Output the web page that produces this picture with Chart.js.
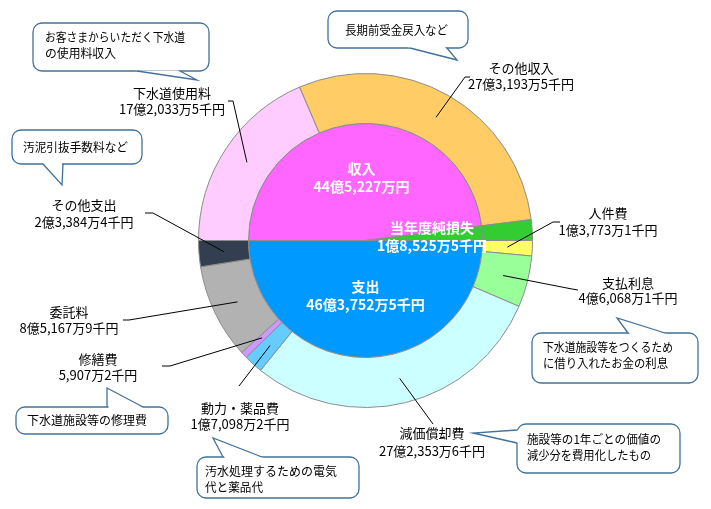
<!DOCTYPE html>
<html>
<head>
<meta charset="utf-8">
<script src="https://cdn.jsdelivr.net/npm/chart.js@4/dist/chart.umd.min.js"></script>
<style>
  html, body { margin: 0; padding: 0; background: #fff; }
  canvas { display: block; }
</style>
</head>
<body>
<canvas id="chart" width="711" height="509"></canvas>
<script>
// ---- Data (単位: 千円) ----
const outerNames  = ['下水道使用料', 'その他収入', '当年度純損失', '人件費', '支払利息', '減価償却費', '動力・薬品費', '修繕費', '委託料', 'その他支出'];
const outerValues = [1720335, 2731935, 185255, 137731, 460681, 2723536, 170982, 59072, 851679, 233844];
const outerColors = ['#ffccff', '#ffcc66', '#33cc33', '#ffff66', '#99ff99', '#ccffff', '#66ccff', '#cc99ff', '#b2b2b2', '#333f50'];

const innerNames  = ['収入', '当年度純損失', '支出'];
const innerValues = [4452270, 185255, 4637525];
const innerColors = ['#ff66ff', '#33cc33', '#0099ff'];

// ---- Label placement (text centre + leader path near the label) ----
const outerLabelLayout = [
  { x: 172, y: 93,  gap: 16, path: [[233, 101], [228, 101]] },
  { x: 521, y: 68,  gap: 16, path: [[465, 77], [470, 77]] },
  null,
  { x: 608, y: 213, gap: 17, path: [[553, 222], [560, 222]] },
  { x: 628, y: 283, gap: 15, path: [[572, 289], [578, 290]] },
  { x: 432, y: 433, gap: 18, path: [[433, 424]] },
  { x: 240, y: 408, gap: 16, path: [[239, 386]] },
  { x: 98,  y: 359, gap: 16, path: [[170, 366], [162, 366]] },
  { x: 69,  y: 312, gap: 16, path: [[129, 320], [123, 320]] },
  { x: 84,  y: 205, gap: 17, path: [[153, 213], [145, 213]] },
];
const innerLabelRadius = [0.54, 0.57, 0.47];

// ---- Callouts ----
const callouts = [
  { lines: ['お客さまからいただく下水道', 'の使用料収入'], widths: [140, 71], box: [33, 23, 176, 48], tx: 45, ty: 37, base: [[137, 71], [180, 71]], tip: [197, 80] },
  { lines: ['長期前受金戻入など'], widths: [103], box: [328, 11, 140, 37], tx: 345, ty: 30, base: [[410, 48], [447, 48]], tip: [457, 60] },
  { lines: ['汚泥引抜手数料など'], widths: [105], box: [12, 130, 130, 34], tx: 23, ty: 147, base: [[43, 164], [63, 164]], tip: [62, 185] },
  { lines: ['下水道施設等をつくるため', 'に借り入れたお金の利息'], widths: [130, 125], box: [532, 333, 166, 50], tx: 543, ty: 347, base: [[628, 333], [665, 333]], tip: [617, 318] },
  { lines: ['下水道施設等の修理費'], widths: [124], box: [16, 407, 152, 27], tx: 27, ty: 420, base: [[107, 407], [143, 407]], tip: [107, 388] },
  { lines: ['汚水処理するための電気', '代と薬品代'], widths: [132, 58], box: [197, 457, 162, 41], tx: 205, ty: 471, base: [[223, 457], [262, 457]], tip: [213, 438] },
  { lines: ['施設等の1年ごとの価値の', '減少分を費用化したもの'], widths: [134, 124], box: [517, 424, 163, 49], tx: 527, ty: 439, base: [[517, 430], [517, 443]], tip: [473, 433] },
];

const FONT = "'Noto Sans CJK JP', 'Noto Sans', sans-serif";

// 千円 -> "17億2,033万5千円"
function formatYen(v) {
  const oku = Math.floor(v / 100000);
  const rest = v % 100000;
  const man = Math.floor(rest / 10);
  const sen = rest % 10;
  let s = '';
  if (oku) s += oku + '億';
  if (man) s += man.toLocaleString('en-US') + '万';
  if (sen) s += sen + '千';
  return s + '円';
}

function roundRectPath(ctx, x, y, w, h, r) {
  ctx.beginPath();
  ctx.moveTo(x + r, y);
  ctx.lineTo(x + w - r, y);
  ctx.arcTo(x + w, y, x + w, y + r, r);
  ctx.lineTo(x + w, y + h - r);
  ctx.arcTo(x + w, y + h, x + w - r, y + h, r);
  ctx.lineTo(x + r, y + h);
  ctx.arcTo(x, y + h, x, y + h - r, r);
  ctx.lineTo(x, y + r);
  ctx.arcTo(x, y, x + r, y, r);
  ctx.closePath();
}

function drawCallout(ctx, c) {
  const [x, y, w, h] = c.box;
  ctx.save();
  ctx.lineWidth = 1.3;
  ctx.strokeStyle = '#41719c';
  ctx.fillStyle = '#fff';
  roundRectPath(ctx, x, y, w, h, 9);
  ctx.fill();
  ctx.stroke();
  // tail
  const [tx, ty] = c.tip;
  const mx = (c.base[0][0] + c.base[1][0]) / 2, my = (c.base[0][1] + c.base[1][1]) / 2;
  const len = Math.hypot(mx - tx, my - ty);
  const ux = (mx - tx) / len * 2.5, uy = (my - ty) / len * 2.5;
  ctx.beginPath();
  ctx.moveTo(tx, ty);
  ctx.lineTo(c.base[0][0] + ux, c.base[0][1] + uy);
  ctx.lineTo(c.base[1][0] + ux, c.base[1][1] + uy);
  ctx.closePath();
  ctx.fill();
  ctx.beginPath();
  ctx.moveTo(c.base[0][0], c.base[0][1]);
  ctx.lineTo(tx, ty);
  ctx.lineTo(c.base[1][0], c.base[1][1]);
  ctx.stroke();
  // text
  ctx.fillStyle = '#000';
  ctx.font = '12px ' + FONT;
  ctx.textAlign = 'left';
  ctx.textBaseline = 'middle';
  c.lines.forEach((t, i) => ctx.fillText(t, c.tx, c.ty + i * 16, c.widths[i]));
  ctx.restore();
}

// ---- Plugin: labels, leaders, callouts ----
const labelPlugin = {
  id: 'labels',
  afterDatasetsDraw(chart) {
    const ctx = chart.ctx;
    const outerMeta = chart.getDatasetMeta(0);
    const innerMeta = chart.getDatasetMeta(1);

    // leader lines + outer labels
    ctx.save();
    outerMeta.data.forEach((arc, i) => {
      const lay = outerLabelLayout[i];
      if (!lay) return;
      const p = arc.getProps(['x', 'y', 'startAngle', 'endAngle', 'innerRadius', 'outerRadius'], true);
      const mid = (p.startAngle + p.endAngle) / 2;
      const r = (p.innerRadius + p.outerRadius) / 2;
      ctx.beginPath();
      ctx.moveTo(p.x + Math.cos(mid) * r, p.y + Math.sin(mid) * r);
      lay.path.forEach(pt => ctx.lineTo(pt[0], pt[1]));
      ctx.strokeStyle = '#000';
      ctx.lineWidth = 1;
      ctx.stroke();

      ctx.fillStyle = '#000';
      ctx.font = '13px ' + FONT;
      ctx.textAlign = 'center';
      ctx.textBaseline = 'middle';
      ctx.fillText(outerNames[i], lay.x, lay.y);
      ctx.fillText(formatYen(outerValues[i]), lay.x, lay.y + lay.gap);
    });

    // inner labels
    innerMeta.data.forEach((arc, i) => {
      const p = arc.getProps(['x', 'y', 'startAngle', 'endAngle', 'outerRadius'], true);
      const mid = (p.startAngle + p.endAngle) / 2;
      const r = p.outerRadius * innerLabelRadius[i];
      const cx = p.x + Math.cos(mid) * r;
      const cy = p.y + Math.sin(mid) * r;
      ctx.fillStyle = '#fff';
      ctx.font = 'bold 14px ' + FONT;
      ctx.textAlign = 'center';
      ctx.textBaseline = 'middle';
      ctx.fillText(innerNames[i], cx, cy - 9);
      ctx.fillText(formatYen(innerValues[i]), cx, cy + 9);
    });
    ctx.restore();

    callouts.forEach(c => drawCallout(ctx, c));
  }
};

new Chart(document.getElementById('chart').getContext('2d'), {
  type: 'doughnut',
  data: {
    labels: outerNames,
    datasets: [
      {
        data: outerValues,
        backgroundColor: outerColors,
        borderColor: '#8c8c8c',
        borderWidth: 1,
        hoverOffset: 0,
        weight: 50,
      },
      {
        data: innerValues,
        backgroundColor: innerColors,
        borderColor: '#8c8c8c',
        borderWidth: 1,
        hoverOffset: 0,
        weight: 117,
      },
    ],
  },
  options: {
    responsive: false,
    animation: false,
    cutout: 0,
    rotation: -90,
    layout: { padding: { left: 198, top: 73, right: 178, bottom: 101 } },
    plugins: {
      legend: { display: false },
      tooltip: { enabled: false },
    },
  },
  plugins: [labelPlugin],
});
</script>
</body>
</html>
